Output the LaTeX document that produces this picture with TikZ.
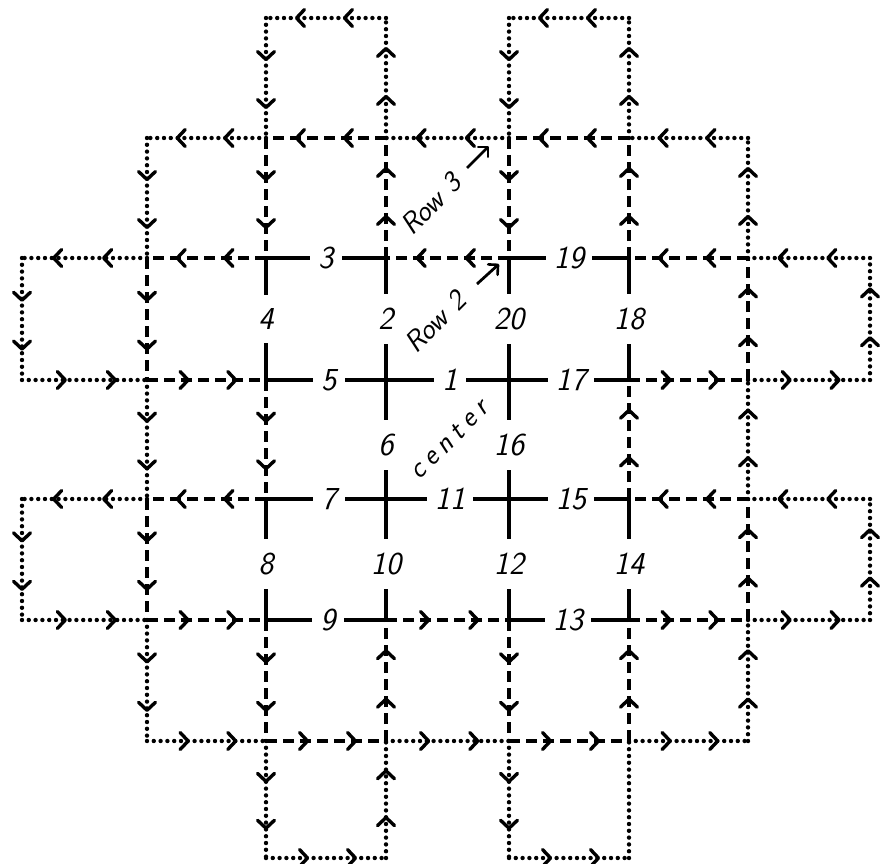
\documentclass[tikz,border=0pt]{standalone}
\usetikzlibrary{arrows.meta,decorations.markings}
\tikzset{
  chev/.tip={Straight Barb[length=8pt,width=17pt,line width=3.4pt,round]},
  ln/.style={line width=4.4pt},
  sld/.style={ln,line cap=rect},
  dsh/.style={ln,dash pattern=on 11pt off 6pt},
  dtt/.style={ln,line cap=round,dash pattern=on 0pt off 6.8pt},
  arr/.style={postaction={decorate},decoration={markings,
     mark=at position 0.36 with {\arrow{chev}},
     mark=at position 0.76 with {\arrow{chev}}}},
  num/.style={fill=white,font=\fontsize{32}{34}\selectfont\sffamily\itshape},
  hnum/.style={num,inner xsep=8pt,inner ysep=1pt},
  vnum/.style={num,inner xsep=1pt,inner ysep=14pt},
  rowlbl/.style={font=\fontsize{29}{30}\selectfont\sffamily\itshape,rotate=45,inner sep=0pt},
  ptr/.style={line width=2.8pt,-{Straight Barb[length=7pt,width=14pt,line width=2.6pt,round]}}
}
\begin{document}
\begin{tikzpicture}[x=1pt,y=-1pt]
\useasboundingbox (0,0) rectangle (894,864);
% grid points g<col><row>
\foreach \x [count=\i from 0] in {22,147,266,386,509,629,748,870}{
  \foreach \y [count=\j from 0] in {18,138,258,380,499,620,741,858}{
    \coordinate (g\i\j) at (\x,\y);
  }
}
% solid centre
\draw[sld] (g22) -- (g32);
\draw[sld] (g42) -- (g52);
\draw[sld] (g25) -- (g35);
\draw[sld] (g45) -- (g55);
\draw[sld] (g23) -- (g53);
\draw[sld] (g24) -- (g54);
\draw[sld] (g22) -- (g23);
\draw[sld] (g24) -- (g25);
\draw[sld] (g52) -- (g53);
\draw[sld] (g54) -- (g55);
\draw[sld] (g32) -- (g35);
\draw[sld] (g42) -- (g45);
% row 2 (dashed) segments, drawn in the direction of the arrows
\foreach \a/\b in {31/21,51/41,22/12,42/32,62/52,13/23,53/63,24/14,64/54,
  15/25,35/45,55/65,26/36,46/56,12/13,14/15,21/22,23/24,25/26,32/31,36/35,
  41/42,45/46,52/51,54/53,56/55,63/62,65/64}{
  \draw[dsh,arr] (g\a) -- (g\b);
}
% row 3 (dotted) segments
\foreach \a/\b in {30/20,50/40,21/11,41/31,61/51,12/02,72/62,03/13,63/73,
  14/04,74/64,05/15,65/75,16/26,36/46,56/66,27/37,47/57,02/03,04/05,11/12,
  13/14,15/16,20/21,26/27,31/30,37/36,40/41,46/47,51/50,62/61,64/63,66/65,
  73/72,75/74}{
  \draw[dtt,arr] (g\a) -- (g\b);
}
\draw[dtt] (g57) -- (g56);
% numbers
\node[hnum] (n3)  at (326,258) {3};
\node[hnum] (n19) at (569,258) {19};
\node[hnum] (n5)  at (329,380) {5};
\node[hnum] (n1)  at (450,380) {1};
\node[hnum] (n17) at (571,380) {17};
\node[hnum] (n7)  at (329,499) {7};
\node[hnum] (n11) at (450,499) {11};
\node[hnum] (n15) at (571,499) {15};
\node[hnum] (n9)  at (328,620) {9};
\node[hnum] (n13) at (568,620) {13};
\node[vnum] (n4)  at (266,319) {4};
\node[vnum] (n2)  at (386,319) {2};
\node[vnum] (n20) at (509,319) {20};
\node[vnum] (n18) at (629,319) {18};
\node[vnum] (n6)  at (386,445) {6};
\node[vnum] (n16) at (509,445) {16};
\node[vnum] (n8)  at (266,564) {8};
\node[vnum] (n10) at (386,564) {10};
\node[vnum] (n12) at (509,564) {12};
\node[vnum] (n14) at (629,564) {14};
% row labels
\node[rowlbl] (row3) at (431,204) {Row\hspace{10pt}3};
\node[rowlbl] (row2) at (435,322) {Row\hspace{10pt}2};
\node[rowlbl] (ctr) at (449,440) {c\kern6pt e\kern6pt n\kern6pt t\kern6pt e\kern6pt r};
\coordinate (r3s) at (467,168);
\coordinate (r3e) at (489,146);
\coordinate (r2s) at (477,284);
\coordinate (r2e) at (499,264);
\draw[ptr] (r3s) -- (r3e);
\draw[ptr] (r2s) -- (r2e);
\end{tikzpicture}
\end{document}
